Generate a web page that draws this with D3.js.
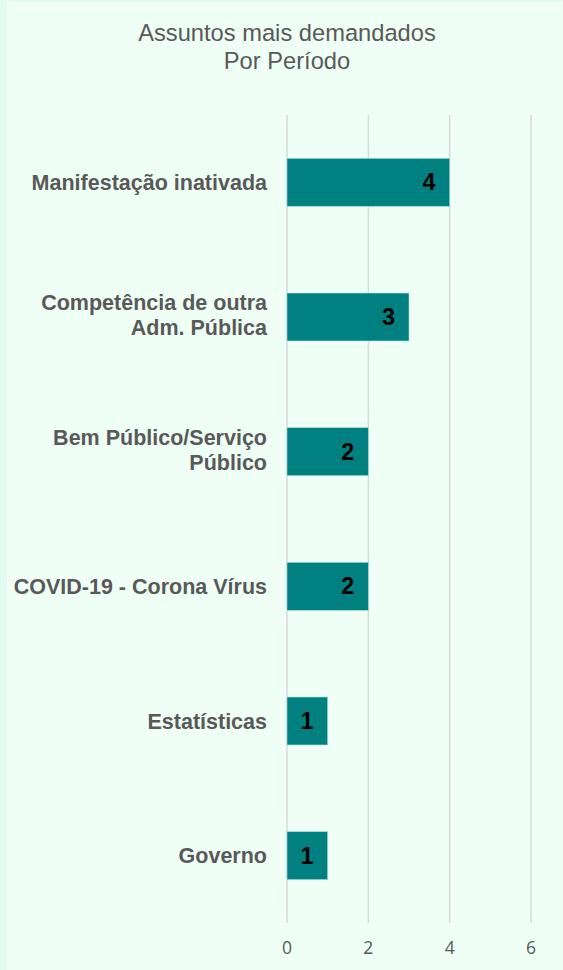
<!DOCTYPE html>
<html><head><meta charset="utf-8">
<script src="https://cdn.jsdelivr.net/npm/d3@7"></script>
<style>html,body{margin:0;padding:0;background:#dffcef;}svg{display:block;}</style>
</head><body>
<svg id="chart" width="563" height="970"></svg>
<script>
const categories = [["Manifestação inativada"],["Competência de outra","Adm. Pública"],["Bem Público/Serviço","Público"],["COVID-19 - Corona Vírus"],["Estatísticas"],["Governo"]];
const values = [4,3,2,2,1,1];
const tickValues = [0,2,4,6];
const titleLines = ["Assuntos mais demandados","Por Período"];

const svg = d3.select("#chart");
svg.append("rect").attr("x",0).attr("y",0).attr("width",563).attr("height",970).attr("fill","#dffcef");
svg.append("rect").attr("x",7.5).attr("y",2.5).attr("width",560).attr("height",970).attr("fill","#effff5").attr("stroke","#ffffff").attr("stroke-width",1);

const x = d3.scaleLinear().domain([0,6]).range([287,531]);
const y = d3.scaleBand().domain(d3.range(categories.length)).range([115,923]).paddingInner(0.644).paddingOuter(0.322);

svg.append("g").selectAll("line").data(tickValues).join("line")
  .attr("x1",d=>x(d)).attr("x2",d=>x(d)).attr("y1",115).attr("y2",923)
  .attr("stroke","#d9d9d9").attr("stroke-width",1.5);

svg.append("g").selectAll("text").data(tickValues).join("text")
  .attr("x",d=>x(d)).attr("y",954).attr("text-anchor","middle")
  .attr("font-family","'Open Sans', sans-serif").attr("font-size",17.5).attr("fill","#595959")
  .text(d=>d);

svg.append("g").selectAll("rect").data(values).join("rect")
  .attr("x",x(0)).attr("y",(d,i)=>y(i)).attr("width",d=>x(d)-x(0)).attr("height",y.bandwidth())
  .attr("fill","#008080").attr("stroke","#a8dcd6").attr("stroke-width",0.6);

svg.append("g").selectAll("text").data(values).join("text")
  .attr("x",d=>x(d)-14).attr("y",(d,i)=>y(i)+y.bandwidth()/2+8).attr("text-anchor","end")
  .attr("font-family","'Liberation Sans', Arial, sans-serif").attr("font-weight","bold").attr("font-size",23.5).attr("fill","#000")
  .text(d=>d);

const lab = svg.append("g").selectAll("text").data(categories).join("text")
  .attr("text-anchor","end")
  .attr("font-family","'Liberation Sans', Arial, sans-serif").attr("font-weight","bold").attr("font-size",21.5).attr("fill","#595959");
lab.each(function(lines,i){
  const c = y(i)+y.bandwidth()/2;
  const first = lines.length===1 ? c+7.5 : c-7;
  d3.select(this).selectAll("tspan").data(lines).join("tspan")
    .attr("x",267).attr("y",(d,j)=>first+j*25).text(d=>d);
});

svg.append("g").selectAll("text").data(titleLines).join("text")
  .attr("x",287).attr("y",(d,i)=>41+i*27.5).attr("text-anchor","middle")
  .attr("font-family","'Liberation Sans', Arial, sans-serif").attr("font-size",23.7).attr("fill","#595959")
  .text(d=>d);
</script>
</body></html>
